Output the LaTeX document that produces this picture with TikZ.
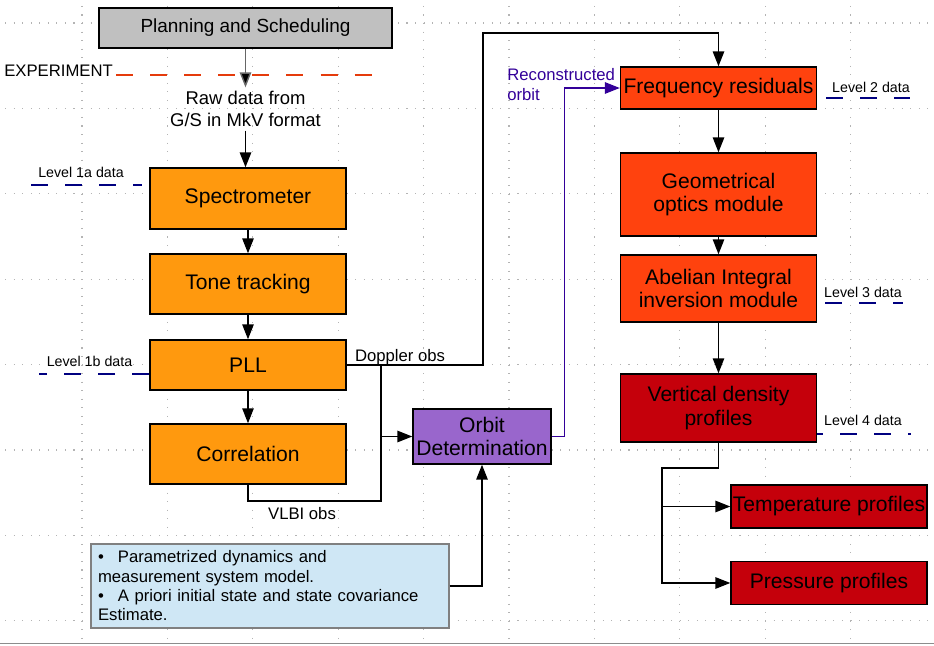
\documentclass[tikz,border=0pt]{standalone}
\usepackage{fontspec}
\setmainfont{Liberation Sans}
\usetikzlibrary{arrows.meta, positioning}
\definecolor{plangray}{HTML}{C0C0C0}
\definecolor{stageorange}{HTML}{FF990E}
\definecolor{procred}{HTML}{FF420E}
\definecolor{proddark}{HTML}{C5000B}
\definecolor{orbitpurple}{HTML}{9966CC}
\definecolor{notebg}{HTML}{CFE7F5}
\definecolor{levelnavy}{HTML}{000080}
\definecolor{orbitblue}{HTML}{330099}
\definecolor{gridgray}{HTML}{B4B4B4}

\begin{document}
\begin{tikzpicture}[
    x=0.02cm, y=-0.02cm,
    on grid,
    every node/.style={font=\fontsize{12}{13.5}\selectfont},
    box/.style={rectangle, draw, line width=0.8pt, minimum width=3.92cm, align=center, inner sep=1pt},
    plan/.style={box, fill=plangray, minimum width=5.86cm, minimum height=0.8cm, font=\fontsize{10.8}{13}\selectfont},
    stage/.style={box, fill=stageorange},
    proc/.style={box, fill=procred},
    prod/.style={box, fill=proddark},
    note/.style={rectangle, draw=black!50, line width=0.8pt, fill=notebg, align=left, inner sep=4pt,
        text width=6.88cm, minimum height=1.64cm, font=\fontsize{9.5}{11}\selectfont},
    lbl/.style={font=\fontsize{9.5}{11}\selectfont, inner sep=0pt},
    lvl/.style={font=\fontsize{8.1}{10}\selectfont, inner sep=0pt},
    lvlline/.style={levelnavy, line width=0.7pt, dash pattern=on 9.7pt off 9.7pt},
    arr/.style={-{Triangle[length=8.5pt, width=6.5pt]}, line width=0.8pt},
    dotgrid/.style={gridgray, line width=0.6pt, dash pattern=on 0.6pt off 4.26pt}
]
    \useasboundingbox (0,0) rectangle (934,646);

    % page grid
    \foreach \gy in {0,...,7}
        \draw[dotgrid] (5.14,{23+85.4*\gy}) -- (934,{23+85.4*\gy});
    \foreach \gx in {0,...,9}
        \draw[dotgrid] ({82+85.4*\gx},5.92) -- ({82+85.4*\gx},640);
    \draw[black!45, line width=1pt] (0,643.5) -- (934,643.5);

    % left column
    \node[plan] (plan) at (245.5,28) {Planning and Scheduling};
    \node[font=\fontsize{10.5}{12.5}\selectfont, align=center, inner sep=2pt] (rawdata) at (245.5,109) {Raw data from\\G/S in MkV format};
    \node[stage, minimum height=1.22cm] (spec) at (248,198.5) {Spectrometer};
    \node[stage, minimum height=1.2cm, below=1.71cm of spec] (tone) {Tone tracking};
    \node[stage, minimum height=1.0cm, below=1.62cm of tone] (pll) {PLL};
    \node[stage, minimum height=1.2cm, below=1.78cm of pll] (corr) {Correlation};

    \node[box, fill=orbitpurple, minimum width=2.76cm, minimum height=1.1cm] (orbit) at (482,436.5) {Orbit\\Determination};
    \node[note] (info) at (270,586) {\textbullet\hspace{8pt}Parametrized dynamics and\\measurement system model.\\\textbullet\hspace{8pt}A priori initial state and state covariance\\Estimate.};

    % right column
    \node[proc, minimum height=0.84cm] (freq) at (718.5,88) {Frequency residuals};
    \node[proc, minimum height=1.66cm, below=2.13cm of freq] (geo) {Geometrical\\optics module};
    \node[proc, minimum height=1.34cm, below=1.88cm of geo] (abel) {Abelian Integral\\inversion module};
    \node[prod, minimum height=1.36cm, below=2.39cm of abel] (vert) {Vertical density\\profiles};
    \node[prod, minimum height=0.86cm] (temp) at (829,506.5) {Temperature profiles};
    \node[prod, minimum height=0.86cm, below=1.53cm of temp] (pres) {Pressure profiles};

    % labels
    \node[lbl, anchor=west] (exp) at (4,71) {EXPERIMENT};
    \node[lvl] (lvl1a) at (81,172) {Level 1a data};
    \node[lvl] (lvl1b) at (89.5,361) {Level 1b data};
    \node[lvl] (lvl2) at (871,87) {Level 2 data};
    \node[lvl] (lvl3) at (863,292) {Level 3 data};
    \node[lvl] (lvl4) at (863,420) {Level 4 data};
    \node[lbl] (doppler) at (400,357) {Doppler obs};
    \node[lbl] (vlbi) at (302,514) {VLBI obs};
    \node[lbl, text=orbitblue, align=left, anchor=west] (recon) at (507,84.5) {Reconstructed\\orbit};

    % level lines
    \coordinate (expstart) at (116,75);
    \coordinate (expend) at (372,75);
    \draw[lvlline, procred!90!black, line width=0.6pt] (expstart) -- (expend);
    \coordinate (l1astart) at (31,185);
    \coordinate (l1aend) at (142,185);
    \draw[lvlline] (l1astart) -- (l1aend);
    \coordinate (l1bend) at (39,374);
    \draw[lvlline] (l1bend -| pll.west) -- (l1bend);
    \coordinate (l2start) at (826,98);
    \coordinate (l2end) at (910,98);
    \draw[lvlline] (l2start) -- (l2end);
    \coordinate (l3start) at (825,303);
    \coordinate (l3end) at (903,303);
    \draw[lvlline] (l3start) -- (l3end);
    \coordinate (l4end) at (911,434);
    \draw[lvlline, dash phase=6.3pt] (l4end -| vert.east) -- (l4end);

    % connectors
    \draw[arr, black!60, -{Triangle[length=8.5pt, width=6.5pt, fill=black]}] (plan.south) -- (rawdata.north);
    \draw[arr] (rawdata.south) -- (rawdata.south |- spec.north);
    \draw[arr] (spec) -- (tone);
    \draw[arr] (tone) -- (pll);
    \draw[arr] (pll) -- (corr);

    \coordinate (dtop) at (483,33);
    \draw[arr] (pll.east) -| (dtop) -| (freq.north);
    \coordinate (vlbicorner) at (381,501);
    \coordinate (obsjoin) at (381,365);
    \draw[line width=0.8pt] (corr.south) |- (vlbicorner) -- (obsjoin);
    \draw[arr] (orbit.west -| obsjoin) -- (orbit.west);
    \draw[arr, orbitblue] (orbit.east) -- ++(13,0) |- (freq.west);
    \draw[arr] (info.east) -| (orbit.south);

    \draw[arr] (freq) -- (geo);
    \draw[arr] (geo) -- (abel);
    \draw[arr] (abel) -- (vert);
    \coordinate (vsplit) at (662,468);
    \draw[arr] (vert.south) |- (vsplit) |- (pres.west);
    \draw[arr] (vsplit |- temp.west) -- (temp.west);
\end{tikzpicture}
\end{document}
